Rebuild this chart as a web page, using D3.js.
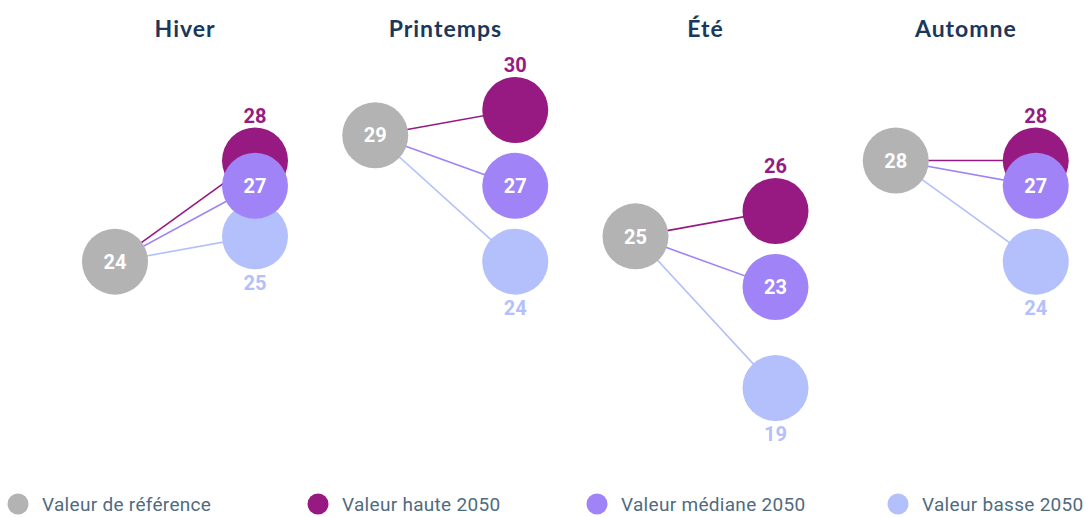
<!DOCTYPE html>
<html>
<head>
<meta charset="utf-8">
<script src="https://cdn.jsdelivr.net/npm/d3@7"></script>
<style>
  body { margin: 0; background: #fff; }
  svg { display: block; }
</style>
</head>
<body>
<div id="chart"></div>
<script>
const seasons = ["Hiver", "Printemps", "Été", "Automne"];
const reference = [24, 29, 25, 28];
const high2050 = [28, 30, 26, 28];
const median2050 = [27, 27, 23, 27];
const low2050 = [25, 24, 19, 24];

const legendLabels = ["Valeur de référence", "Valeur haute 2050", "Valeur médiane 2050", "Valeur basse 2050"];
const colors = { ref: "#b3b3b3", high: "#961a81", median: "#a084f7", low: "#b3c0fb" };

const width = 1089, height = 517;
const r = 33;

const svg = d3.select("#chart").append("svg")
    .attr("width", width)
    .attr("height", height);

const x = d3.scaleBand()
    .domain(seasons)
    .range([55, 1096]);

const y = d3.scaleLinear()
    .domain([19, 30])
    .range([388, 110]);

// series drawn in this order so the median circle sits on top
const series = [
    { key: "high", values: high2050, label: "above", color: colors.high },
    { key: "low", values: low2050, label: "below", color: colors.low },
    { key: "median", values: median2050, label: "inside", color: colors.median }
];

const panels = svg.selectAll(".panel")
    .data(seasons)
    .enter().append("g")
    .attr("class", "panel")
    .attr("transform", d => `translate(${x(d)},0)`);

panels.append("text")
    .attr("x", x.bandwidth() / 2)
    .attr("y", 37)
    .attr("text-anchor", "middle")
    .attr("font-family", "Lato, sans-serif")
    .attr("font-weight", "bold")
    .attr("font-size", 23)
    .attr("letter-spacing", 1)
    .attr("fill", "#1b375a")
    .text(d => d);

const refX = 60, outX = 200;

// connector lines
panels.each(function (season, i) {
    const g = d3.select(this);
    series.forEach(s => {
        g.append("line")
            .attr("x1", refX)
            .attr("y1", y(reference[i]))
            .attr("x2", outX)
            .attr("y2", y(s.values[i]))
            .attr("stroke", s.color)
            .attr("stroke-width", 1.6);
    });
});

// reference circle
panels.append("circle")
    .attr("cx", refX)
    .attr("cy", (d, i) => y(reference[i]))
    .attr("r", r)
    .attr("fill", colors.ref);

panels.append("text")
    .attr("x", refX)
    .attr("y", (d, i) => y(reference[i]))
    .attr("dy", "0.36em")
    .attr("text-anchor", "middle")
    .attr("font-family", "Roboto, sans-serif")
    .attr("font-weight", "bold")
    .attr("font-size", 20)
    .attr("fill", "#fff")
    .text((d, i) => reference[i]);

// 2050 circles
panels.each(function (season, i) {
    const g = d3.select(this);
    series.forEach(s => {
        g.append("circle")
            .attr("cx", outX)
            .attr("cy", y(s.values[i]))
            .attr("r", r)
            .attr("fill", s.color);
    });
    series.forEach(s => {
        let ty = y(s.values[i]);
        let fill = s.color;
        if (s.label === "above") ty -= r + 12;
        else if (s.label === "below") ty += r + 13;
        else fill = "#fff";
        g.append("text")
            .attr("x", outX)
            .attr("y", ty)
            .attr("dy", "0.36em")
            .attr("text-anchor", "middle")
            .attr("font-family", "Roboto, sans-serif")
            .attr("font-weight", "bold")
            .attr("font-size", 20)
            .attr("fill", fill)
            .text(s.values[i]);
    });
});

// legend
const legendX = [18, 318, 597, 898];
const legendColors = [colors.ref, colors.high, colors.median, colors.low];

const legend = svg.selectAll(".legend")
    .data(legendLabels)
    .enter().append("g")
    .attr("class", "legend")
    .attr("transform", (d, i) => `translate(${legendX[i]},504)`);

legend.append("circle")
    .attr("r", 10.5)
    .attr("fill", (d, i) => legendColors[i]);

legend.append("text")
    .attr("x", 24)
    .attr("dy", "0.36em")
    .attr("font-family", "Roboto, sans-serif")
    .attr("font-size", 19)
    .attr("letter-spacing", 0.3)
    .attr("fill", "#4f6b80")
    .text(d => d);
</script>
</body>
</html>
